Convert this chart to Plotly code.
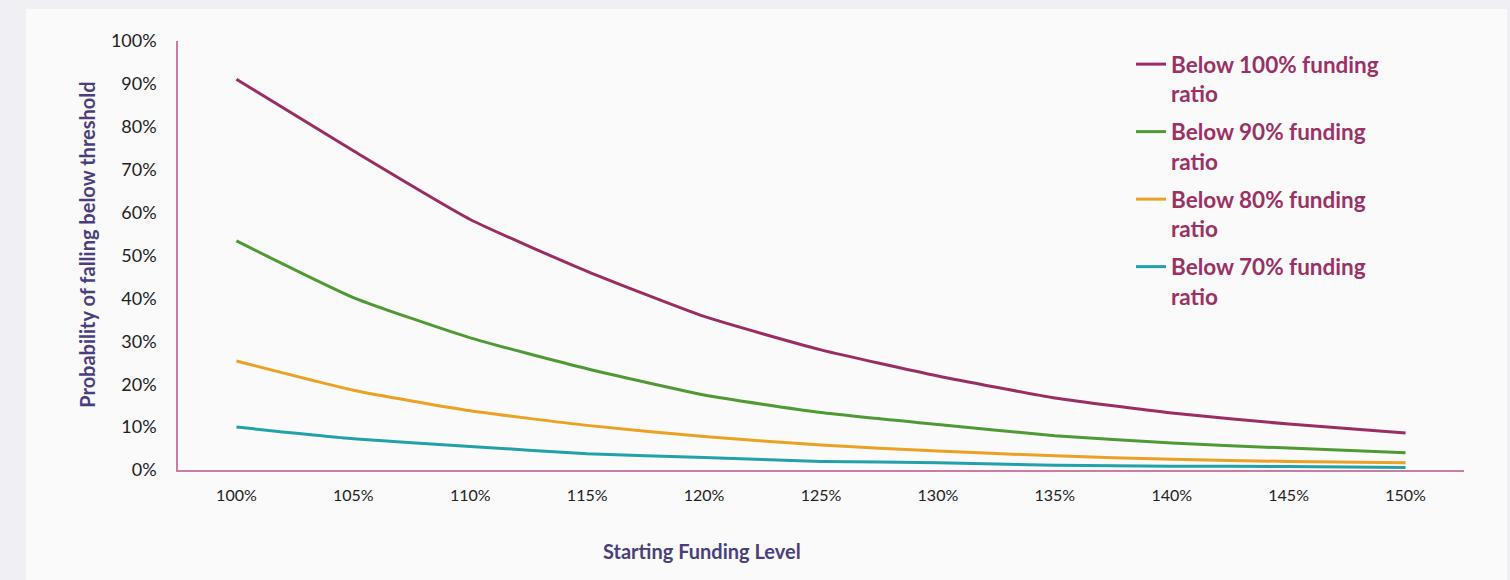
import plotly.graph_objects as go

categories = ["100%", "105%", "110%", "115%", "120%", "125%", "130%", "135%", "140%", "145%", "150%"]
below_100 = [91.1, 74.4, 58.4, 46.3, 35.8, 28.0, 21.9, 16.8, 13.3, 10.7, 8.6]
below_90 = [53.4, 40.2, 30.8, 23.6, 17.5, 13.4, 10.6, 8.0, 6.3, 5.1, 4.0]
below_80 = [25.4, 18.6, 13.8, 10.4, 7.8, 5.8, 4.4, 3.3, 2.5, 2.0, 1.7]
below_70 = [10.0, 7.3, 5.5, 3.8, 2.9, 2.0, 1.7, 1.1, 0.9, 0.8, 0.6]
series_names = ["Below 100% funding<br>ratio", "Below 90% funding<br>ratio",
                "Below 80% funding<br>ratio", "Below 70% funding<br>ratio"]
series_colors = ["#9c2d63", "#4f9a34", "#eca024", "#22a1aa"]
y_ticks = list(range(0, 101, 10))
y_tick_labels = [f"{v}%" for v in y_ticks]

fig = go.Figure()
for i, (name, vals, col) in enumerate(zip(series_names, [below_100, below_90, below_80, below_70], series_colors)):
    fig.add_trace(go.Scatter(
        x=categories, y=vals, name=name, mode="lines",
        line=dict(color=col, width=3, shape="spline", smoothing=0.5),
        legendgroup=f"g{i}", hoverinfo="skip",
    ))

L, R, T, B = 178, 46, 41, 109.5
W, H = 1510, 580
pw, ph = W - L - R, H - T - B

def px_x(x):
    return (x - L) / pw

def px_y(y):
    return (H - B - y) / ph

fig.add_shape(type="rect", xref="paper", yref="paper",
              x0=px_x(26), x1=px_x(1507), y0=px_y(600), y1=px_y(9),
              fillcolor="#fafafa", line=dict(width=0), layer="below")

axis_col = "#c97ca4"
fig.update_xaxes(
    type="category", range=[-0.5, 10.5], showgrid=False, zeroline=False,
    showline=True, linecolor=axis_col, linewidth=1.5, ticks="",
    tickfont=dict(family="Lato", size=16, color="#222222"),
    ticklabelstandoff=10,
)
fig.update_yaxes(
    range=[0, 100], tickvals=y_ticks, ticktext=y_tick_labels, showgrid=False,
    zeroline=False, showline=True, linecolor=axis_col, linewidth=1.5, ticks="",
    tickfont=dict(family="Lato", size=18, color="#222222"),
    ticklabelstandoff=16,
)

title_col = "#4a3f7e"
fig.add_annotation(text="<b>Starting Funding Level</b>", xref="paper", yref="paper",
                   x=px_x(702), y=px_y(552), showarrow=False,
                   font=dict(family="Lato", size=20, color=title_col),
                   xanchor="center", yanchor="middle")
fig.add_annotation(text="<b>Probability of falling below threshold</b>", xref="paper", yref="paper",
                   x=px_x(87), y=px_y(245), showarrow=False, textangle=-90,
                   font=dict(family="Lato", size=20, color=title_col),
                   xanchor="center", yanchor="middle")

fig.update_layout(
    width=W, height=H,
    margin=dict(l=L, r=R, t=T, b=B, pad=0),
    paper_bgcolor="#efeff4", plot_bgcolor="#fafafa",
    showlegend=True,
    legend=dict(
        x=px_x(1131), y=px_y(43), xanchor="left", yanchor="top",
        bgcolor="rgba(0,0,0,0)", borderwidth=0,
        font=dict(family="Lato", size=22.5, color="#9c3165", weight="bold"),
        itemwidth=30, tracegroupgap=6, valign="top",
    ),
)

fig.write_html("out.html")
